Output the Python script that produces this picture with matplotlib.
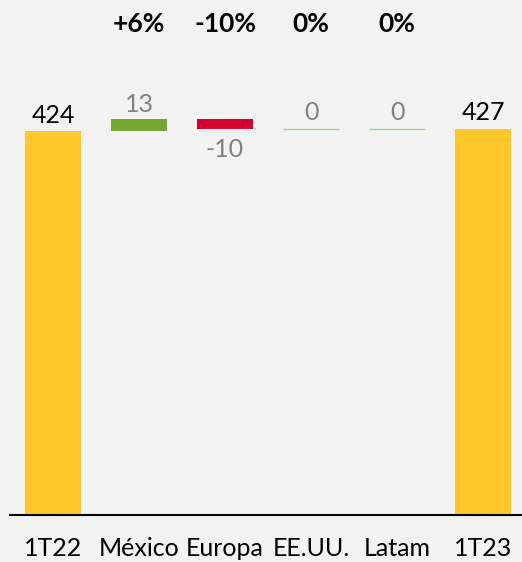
import numpy as np
import matplotlib.pyplot as plt

plt.rcParams['font.family'] = ['Lato', 'DejaVu Sans']

categories = ["1T22", "México", "Europa", "EE.UU.", "Latam", "1T23"]
start_value = 424
deltas = [13, -10, 0, 0]
end_value = 427
pct_labels = ["+6%", "-10%", "0%", "0%"]

bg = "#f2f2f2"
yellow = "#ffc72c"
green = "#77a632"
red = "#d50032"
zero_green = "#a9d08e"
gray = "#808080"

fig = plt.figure(figsize=(5.22, 5.62), dpi=100, facecolor=bg)
ax = fig.add_axes([10 / 522, 47 / 562, 512 / 522, 515 / 562], facecolor=bg)

x = np.arange(len(categories))
w = 0.65
fs = 18

# totals
ax.bar(x[0], start_value, width=w, color=yellow, zorder=2)
ax.bar(x[-1], end_value, width=w, color=yellow, zorder=2)
ax.text(x[0], start_value + 5, str(start_value), ha="center", va="bottom", fontsize=fs, color="black")
ax.text(x[-1], end_value + 5, str(end_value), ha="center", va="bottom", fontsize=fs, color="black")

# variations
cum = start_value
for i, d in enumerate(deltas):
    xi = x[i + 1]
    if d > 0:
        ax.bar(xi, d, bottom=cum, width=w, color=green, zorder=2)
        ax.text(xi, cum + d + 4, str(d), ha="center", va="bottom", fontsize=fs, color=gray)
    elif d < 0:
        ax.bar(xi, -d, bottom=cum + d, width=w, color=red, zorder=2)
        ax.text(xi, cum + d - 11, str(d), ha="center", va="top", fontsize=fs, color=gray)
    else:
        ax.hlines(cum, xi - w / 2, xi + w / 2, color=zero_green, lw=1, zorder=2)
        ax.text(xi, cum + 5, str(d), ha="center", va="bottom", fontsize=fs, color=gray)
    ax.text(xi, 543, pct_labels[i], ha="center", va="center", fontsize=19,
            fontweight="bold", color="black")
    cum += d

ax.set_xlim(-0.5, 5.453)
ax.set_ylim(0, 569)
ax.set_xticks(x)
ax.set_xticklabels(categories, fontsize=fs)
ax.tick_params(axis="x", length=0, pad=16)
ax.set_yticks([])
for s in ["top", "right", "left"]:
    ax.spines[s].set_visible(False)
ax.spines["bottom"].set_linewidth(1.5)
ax.spines["bottom"].set_color("black")

plt.savefig("out.png", dpi=100, facecolor=bg)
